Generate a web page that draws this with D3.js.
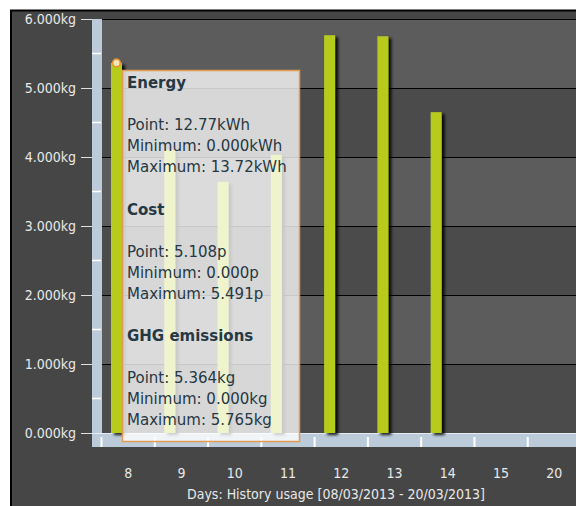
<!DOCTYPE html>
<meta charset="utf-8">
<head>
    <script type="text/javascript" src="https://cdn.jsdelivr.net/npm/d3@7/dist/d3.min.js"></script>
    <style>
        body { margin: 0; background: #fff; }
        .axis text { font-family: "DejaVu Sans Condensed", "DejaVu Sans", sans-serif; font-size: 14px; fill: #e8e8e8; }
        .tip text { font-family: "DejaVu Sans", Verdana, sans-serif; font-size: 15px; fill: #263844; }
    </style>
    <title></title>
</head>
<body>
<script>

    var width = 576
    var height = 506

    // days on the x axis and GHG values (kg)
    var days = ["8", "9", "10", "11", "12", "13", "14", "15", "20"]
    var ghg = [5.364, 4.10, 3.64, 4.03, 5.765, 5.75, 4.65, 0, 0]
    var yTicks = [0, 1, 2, 3, 4, 5, 6]

    // tooltip contents for the hovered point (day 8)
    var tipSeries = ["Energy", "Cost", "GHG emissions"]
    var tipPoint = ["12.77kWh", "5.108p", "5.364kg"]
    var tipMin = ["0.000kWh", "0.000p", "0.000kg"]
    var tipMax = ["13.72kWh", "5.491p", "5.765kg"]
    var hovered = 0

    var svg = d3.select("body").append("svg")
        .attr("width", width)
        .attr("height", height)

    var defs = svg.append("defs")
    var shadow = defs.append("filter").attr("id", "shadow")
        .attr("x", "-50%").attr("y", "-10%").attr("width", "220%").attr("height", "130%")
    shadow.append("feDropShadow")
        .attr("dx", 3).attr("dy", 2).attr("stdDeviation", 1.5)
        .attr("flood-color", "#000").attr("flood-opacity", 0.9)

    // dark panel + black frame
    svg.append("rect").attr("x", 11).attr("y", 10).attr("width", width - 11).attr("height", height - 10)
        .style("fill", "#464646")
    svg.append("line").attr("x1", 10).attr("x2", width).attr("y1", 10.5).attr("y2", 10.5)
        .style("stroke", "#000").style("stroke-width", 2)
    svg.append("line").attr("x1", 11).attr("x2", 11).attr("y1", 10).attr("y2", height)
        .style("stroke", "#000").style("stroke-width", 2)

    var plotLeft = 102
    var y = d3.scaleLinear().domain([0, 6]).range([433, 19])
    var x = d3.scaleBand().domain(days).range([101.5, 581])

    // alternating bands
    svg.append("g").selectAll("rect")
        .data(d3.range(6))
        .enter()
        .append("rect")
        .attr("x", plotLeft)
        .attr("width", width - plotLeft)
        .attr("y", d => y(d + 1))
        .attr("height", d => y(d) - y(d + 1))
        .style("fill", d => d % 2 == 0 ? "#4b4b4b" : "#5c5c5c")

    // grid lines
    var grid = svg.append("g")
        .attr("transform", "translate(" + plotLeft + ",0)")
        .call(d3.axisLeft(y).tickValues(yTicks).tickSize(-(width - plotLeft)).tickFormat(""))
    grid.select(".domain").remove()
    grid.selectAll("line")
        .style("stroke", d => d == 0 ? "#d0d0d0" : "#000")
        .style("stroke-width", 1.2)

    // y axis labels
    var yAxis = svg.append("g")
        .attr("class", "axis")
        .attr("transform", "translate(92,0)")
        .call(d3.axisLeft(y).tickValues(yTicks).tickSize(11).tickPadding(5)
            .tickFormat(d => d.toFixed(3) + "kg"))
    yAxis.select(".domain").remove()
    yAxis.selectAll("line").style("stroke", "#e0e0e0")

    // light blue axis bars
    svg.append("rect").attr("x", 92).attr("y", 19).attr("width", 10).attr("height", 428)
        .style("fill", "#bccbda")
    svg.append("rect").attr("x", 92).attr("y", 433).attr("width", width - 92).attr("height", 14)
        .style("fill", "#bccbda")
    svg.append("line").attr("x1", 92).attr("x2", width).attr("y1", 433.5).attr("y2", 433.5)
        .style("stroke", "#e4ebf2").style("stroke-width", 1)

    svg.append("g").selectAll("line")
        .data(d3.range(0.5, 6, 1))
        .enter()
        .append("line")
        .attr("x1", 92).attr("x2", 101)
        .attr("y1", d => y(d)).attr("y2", d => y(d))
        .style("stroke", "#fff").style("stroke-width", 1.5)

    svg.append("g").selectAll("line")
        .data(days)
        .enter()
        .append("line")
        .attr("x1", d => x(d)).attr("x2", d => x(d))
        .attr("y1", 437).attr("y2", 447)
        .style("stroke", "#fff").style("stroke-width", 2)

    // x axis labels
    var xAxis = svg.append("g")
        .attr("class", "axis")
        .attr("transform", "translate(0,447)")
        .call(d3.axisBottom(x).tickSize(0).tickPadding(21))
    xAxis.select(".domain").remove()

    svg.append("text")
        .attr("x", 336).attr("y", 499)
        .attr("text-anchor", "middle")
        .style("font-family", "'DejaVu Sans Condensed', 'DejaVu Sans', sans-serif")
        .style("font-size", "14px")
        .style("fill", "#e8e8e8")
        .text("Days: History usage [08/03/2013 - 20/03/2013]")

    // bars
    var bw = x.bandwidth()
    svg.append("g").selectAll("rect")
        .data(days.map((d, i) => ({ day: d, v: ghg[i] })).filter(d => d.v > 0))
        .enter()
        .append("rect")
        .attr("x", d => x(d.day) + bw * 0.178)
        .attr("width", bw * 0.206)
        .attr("y", d => y(d.v))
        .attr("height", d => y(0) - y(d.v))
        .attr("filter", "url(#shadow)")
        .style("fill", "#b7cb1f")

    // tooltip
    var tip = svg.append("g").attr("class", "tip")
    tip.append("rect")
        .attr("x", 122.5).attr("y", 70.5).attr("width", 177).attr("height", 371)
        .style("fill", "#fff").style("fill-opacity", 0.78)
        .style("stroke", "#e39a52").style("stroke-width", 1.5)

    var lineH = 21
    tipSeries.forEach(function (s, i) {
        var top = 88 + i * 126.5
        tip.append("text").attr("x", 127).attr("y", top)
            .style("font-weight", "bold").text(s)
        tip.append("text").attr("x", 127).attr("y", top + 2 * lineH).text("Point: " + tipPoint[i])
        tip.append("text").attr("x", 127).attr("y", top + 3 * lineH).text("Minimum: " + tipMin[i])
        tip.append("text").attr("x", 127).attr("y", top + 4 * lineH).text("Maximum: " + tipMax[i])
    })

    // marker on hovered point
    svg.append("circle")
        .attr("cx", x(days[hovered]) + bw * 0.178 + bw * 0.103)
        .attr("cy", y(ghg[hovered]))
        .attr("r", 3.8)
        .style("fill", "#f6e6c0")
        .style("stroke", "#e8952f")
        .style("stroke-width", 1.6)

</script>
</body>
</html>
